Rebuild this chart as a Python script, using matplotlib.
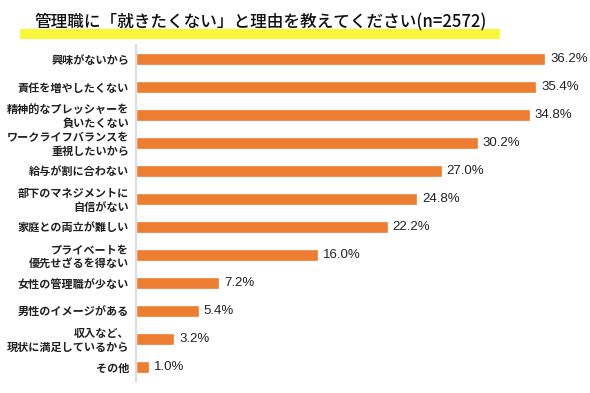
import matplotlib
matplotlib.use("Agg")
import matplotlib.pyplot as plt
from matplotlib.patches import Rectangle

plt.rcParams['font.family'] = ['Noto Sans CJK JP', 'DejaVu Sans']

title = "管理職に「就きたくない」と理由を教えてください(n=2572)"
categories = [
    "興味がないから",
    "責任を増やしたくない",
    "精神的なプレッシャーを\n負いたくない",
    "ワークライフバランスを\n重視したいから",
    "給与が割に合わない",
    "部下のマネジメントに\n自信がない",
    "家庭との両立が難しい",
    "プライベートを\n優先せざるを得ない",
    "女性の管理職が少ない",
    "男性のイメージがある",
    "収入など、\n現状に満足しているから",
    "その他",
]
values = [36.2, 35.4, 34.8, 30.2, 27.0, 24.8, 22.2, 16.0, 7.2, 5.4, 3.2, 1.0]

W, H = 590, 393
fig = plt.figure(figsize=(W / 100, H / 100), dpi=100)

ax_left, ax_right = 136, 590
ax_top, ax_bottom = 45, 381
ax = fig.add_axes([ax_left / W, 1 - ax_bottom / H, (ax_right - ax_left) / W, (ax_bottom - ax_top) / H])

y = list(range(len(categories)))
ax.barh(y, values, height=0.36, color="#ED7D31", edgecolor="#F08A45", linewidth=0.6, left=0.1)
ax.set_ylim(len(categories) - 0.5, -0.5)
ax.set_xlim(0, (ax_right - ax_left) / 11.25)

for yi, v in zip(y, values):
    ax.annotate(f"{v:.1f}%", xy=(v + 0.1, yi), xytext=(4.2, 0), textcoords="offset points",
                va="center", ha="left", fontsize=9.5, color="#222222",
                family=["Liberation Sans", "DejaVu Sans"])

ax.set_yticks(y)
ax.set_yticklabels(categories, fontsize=8.0, fontweight="bold", color="#222222")
for lbl in ax.get_yticklabels():
    lbl.set_multialignment("right")
    lbl.set_linespacing(1.05)
ax.tick_params(axis="y", length=0, pad=5)
ax.set_xticks([])
for s in ["top", "right", "bottom"]:
    ax.spines[s].set_visible(False)
ax.spines["left"].set_color("#DDDDDD")
ax.spines["left"].set_linewidth(1.6)

# title highlight
fig.patches.append(Rectangle((20 / W, 1 - 39 / H), (500 - 20) / W, 10 / H,
                             transform=fig.transFigure, facecolor="#FAF73B", edgecolor="none", zorder=0))
fig.text(261 / W, 1 - 22 / H, title, ha="center", va="center", fontsize=12,
         fontweight="medium", color="#111111", zorder=2)

fig.savefig("out.png", dpi=100)
